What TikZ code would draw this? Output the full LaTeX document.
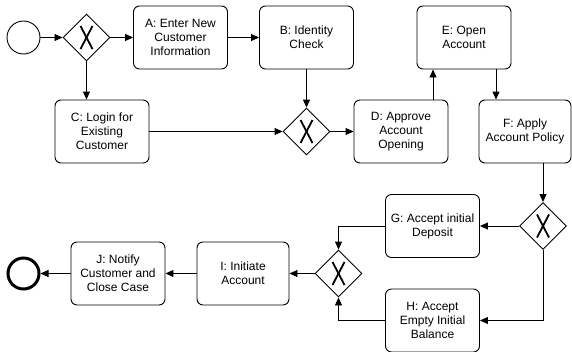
\documentclass[tikz,border=0pt]{standalone}
\usepackage{fontspec}
\setmainfont{Liberation Sans}
\usetikzlibrary{shapes.geometric,arrows.meta}
\begin{document}
\begin{tikzpicture}[x=1pt,y=-1pt,
 task/.style={draw, rounded corners=6pt, minimum width=94pt, minimum height=63pt, align=center, font=\fontsize{12}{14}\selectfont, line width=0.9pt, inner sep=2pt},
 gw/.style={draw, diamond, minimum width=47pt, minimum height=47pt, inner sep=0pt, line width=0.9pt,
   path picture={\draw[line width=1.8pt] ([shift={(-6,-11.5)}]path picture bounding box.center) -- ([shift={(6,11.5)}]path picture bounding box.center);
                 \draw[line width=1.8pt] ([shift={(6,-11.5)}]path picture bounding box.center) -- ([shift={(-6,11.5)}]path picture bounding box.center);}},
 arr/.style={draw, line width=0.9pt, -{Triangle[length=8pt,width=7pt]}},
]
\useasboundingbox (0,0) rectangle (572,351);
\node[draw, circle, minimum size=33pt, line width=0.9pt, inner sep=0pt] (start) at (23.5,37.5) {};
\node[gw] (g1) at (86.5,37.5) {};
\node[task] (A) at (180.5,37.5) {A: Enter New\\Customer\\Information};
\node[task] (B) at (306.5,37.5) {B: Identity\\Check};
\node[task] (C) at (102,131.5) {C: Login for\\Existing\\Customer};
\node[gw] (g2) at (306.5,131.5) {};
\node[task] (D) at (401,131.5) {D: Approve\\Account\\Opening};
\node[task] (E) at (464,37.5) {E: Open\\Account};
\node[task, minimum width=92pt] (F) at (525,131.5) {F: Apply\\Account Policy};
\node[gw] (g3) at (543,226) {};
\node[task] (G) at (432.5,226) {G: Accept initial\\Deposit};
\node[task] (H) at (432.5,320.5) {H: Accept\\Empty Initial\\Balance};
\node[gw] (g4) at (338.5,273.5) {};
\node[task, minimum width=92pt] (I) at (243,273.5) {I: Initiate\\Account};
\node[task] (J) at (118,273.5) {J: Notify\\Customer and\\Close Case};
\node[draw, circle, minimum size=31pt, line width=3pt, inner sep=0pt] (end) at (23.5,273.5) {};

\draw[arr] (start) -- (g1);
\draw[arr] (g1) -- (A);
\draw[arr] (A) -- (B);
\draw[arr] (g1) -- (g1 |- C.north);
\draw[arr] (C) -- (g2);
\draw[arr] (B) -- (g2);
\draw[arr] (g2) -- (D);
\draw[arr] ([xshift=32pt]D.north) -- ([xshift=32pt]D.north |- E.south);
\draw[arr] ([xshift=32pt]E.south) -- ([xshift=32pt]E.south |- F.north);
\draw[arr] (F.south -| g3) -- (g3);
\draw[arr] (g3) -- (G);
\draw[arr] (g3.south) |- (H.east);
\draw[arr] (G.west) -| (g4.north);
\draw[arr] (H.west) -| (g4.south);
\draw[arr] (g4) -- (I);
\draw[arr] (I) -- (J);
\draw[arr] (J) -- (end);
\end{tikzpicture}
\end{document}
